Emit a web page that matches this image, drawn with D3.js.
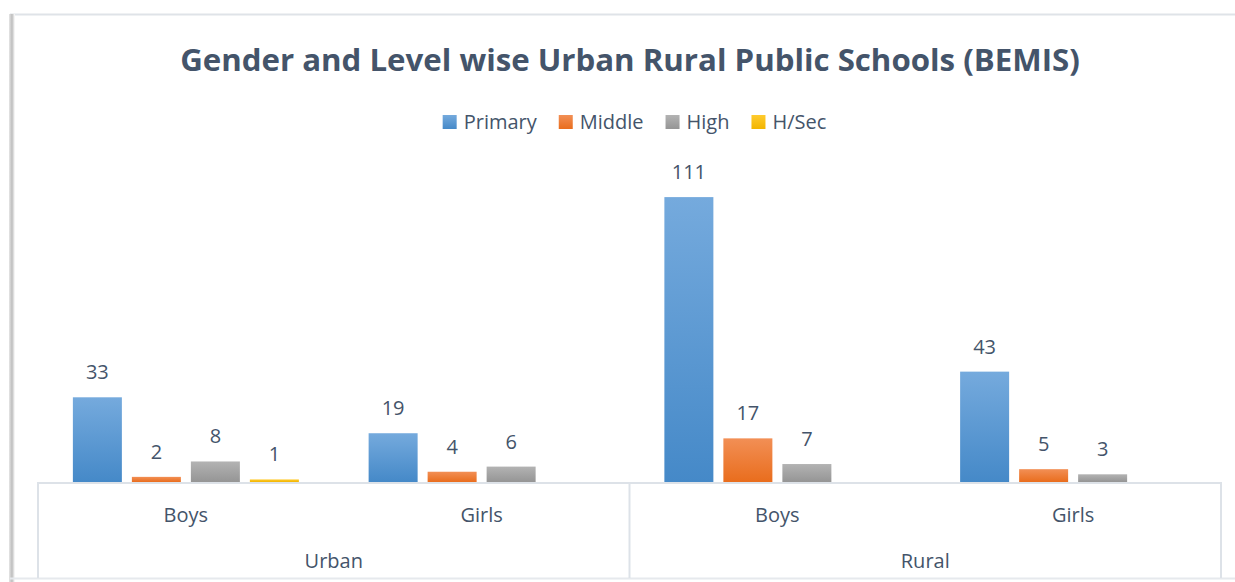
<!DOCTYPE html>
<html>
<head>
<meta charset="utf-8">
<script src="https://cdn.jsdelivr.net/npm/d3@7/dist/d3.min.js"></script>
<style>
  html, body { margin: 0; padding: 0; background: #fff; }
  svg { display: block; }
  text { font-family: "Open Sans", "DejaVu Sans", sans-serif; fill: #44546A; }
</style>
</head>
<body>
<svg id="chart" width="1235" height="582"></svg>
<script>
// Areas and gender sub-categories (two-level category axis)
const areas = ["Urban", "Rural"];
const genders = ["Boys", "Girls"];
const levels = ["Primary", "Middle", "High", "H/Sec"];

// Number of schools per level, ordered Urban Boys, Urban Girls, Rural Boys, Rural Girls
const primary = [33, 19, 111, 43];
const middle = [2, 4, 17, 5];
const high = [8, 6, 7, 3];
const hsec = [1, 0, 0, 0];

const yTicks = [0, 20, 40, 60, 80, 100, 120];

const title = "Gender and Level wise Urban Rural Public Schools (BEMIS)";

const seriesValues = [primary, middle, high, hsec];
const categories = [];
areas.forEach(a => genders.forEach(g => categories.push({ area: a, gender: g, key: a + "|" + g })));

const colors = {
  "Primary": ["#75aadd", "#4589c8"],
  "Middle": ["#f28f55", "#e96d1d"],
  "High": ["#b3b3b3", "#959595"],
  "H/Sec": ["#ffcb2e", "#f2b500"]
};

const W = 1235, H = 582;
const plot = { left: 38, right: 1221, top: 174, bottom: 482 };

const svg = d3.select("#chart");
const defs = svg.append("defs");

// vertical gradients for the bars and legend swatches
levels.forEach((lv, i) => {
  const g = defs.append("linearGradient")
    .attr("id", "grad" + i).attr("x1", 0).attr("y1", 0).attr("x2", 0).attr("y2", 1);
  g.append("stop").attr("offset", "0%").attr("stop-color", colors[lv][0]);
  g.append("stop").attr("offset", "100%").attr("stop-color", colors[lv][1]);
});

// shadow along the left edge of the chart frame
const sh = defs.append("linearGradient").attr("id", "leftShadow")
  .attr("x1", 0).attr("y1", 0).attr("x2", 1).attr("y2", 0);
sh.append("stop").attr("offset", "0%").attr("stop-color", "#e6e6e6");
sh.append("stop").attr("offset", "50%").attr("stop-color", "#bdbdbd");
sh.append("stop").attr("offset", "100%").attr("stop-color", "#ffffff");

// chart frame
svg.append("rect").attr("x", 0).attr("y", 0).attr("width", W).attr("height", H).attr("fill", "#fff");
svg.append("line").attr("x1", 10).attr("x2", W).attr("y1", 14.5).attr("y2", 14.5)
  .attr("stroke", "#dfe3e8").attr("stroke-width", 2);
svg.append("rect").attr("x", 9).attr("y", 14).attr("width", 6).attr("height", H - 14)
  .attr("fill", "url(#leftShadow)");
svg.append("line").attr("x1", 10).attr("x2", W).attr("y1", 578.5).attr("y2", 578.5)
  .attr("stroke", "#e6e9ed").attr("stroke-width", 2);

// scales
const x0 = d3.scaleBand().domain(categories.map(c => c.key)).range([plot.left, plot.right]).padding(0);
const barW = 49, barGap = 10;
const step = barW + barGap;
const pInner = barGap / step;
const pOuter = (x0.bandwidth() / step - (levels.length - pInner)) / 2;
const x1 = d3.scaleBand().domain(levels).range([0, x0.bandwidth()])
  .paddingInner(pInner).paddingOuter(pOuter);
const y = d3.scaleLinear().domain([yTicks[0], yTicks[yTicks.length - 1]]).range([plot.bottom, plot.top]);

// bars and value labels
const rows = [];
categories.forEach((c, ci) => {
  levels.forEach((lv, li) => {
    const v = seriesValues[li][ci];
    if (v > 0) rows.push({ key: c.key, level: lv, li, value: v });
  });
});

const barG = svg.append("g");
barG.selectAll("rect").data(rows).join("rect")
  .attr("x", d => x0(d.key) + x1(d.level))
  .attr("y", d => y(d.value))
  .attr("width", x1.bandwidth())
  .attr("height", d => y(0) - y(d.value))
  .attr("fill", d => "url(#grad" + d.li + ")");

barG.selectAll("text").data(rows).join("text")
  .attr("x", d => x0(d.key) + x1(d.level) + x1.bandwidth() / 2)
  .attr("y", d => y(d.value) - 18)
  .attr("text-anchor", "middle")
  .attr("font-size", 20)
  .text(d => d.value);

// category axis: baseline plus group separators
const axisColor = "#dde2e8";
const axisG = svg.append("g");
axisG.append("line").attr("x1", plot.left).attr("x2", plot.right)
  .attr("y1", plot.bottom + 1).attr("y2", plot.bottom + 1)
  .attr("stroke", axisColor).attr("stroke-width", 2);

const areaBounds = areas.map(a => {
  const keys = categories.filter(c => c.area === a).map(c => c.key);
  return { area: a, x0: x0(keys[0]), x1: x0(keys[keys.length - 1]) + x0.bandwidth() };
});
const seps = [plot.left].concat(areaBounds.map(b => b.x1));
axisG.selectAll("line.sep").data(seps).join("line").attr("class", "sep")
  .attr("x1", d => d).attr("x2", d => d)
  .attr("y1", plot.bottom).attr("y2", 578)
  .attr("stroke", axisColor).attr("stroke-width", 2);

axisG.selectAll("text.gender").data(categories).join("text").attr("class", "gender")
  .attr("x", d => x0(d.key) + x0.bandwidth() / 2)
  .attr("y", 522)
  .attr("text-anchor", "middle").attr("font-size", 20)
  .text(d => d.gender);

axisG.selectAll("text.area").data(areaBounds).join("text").attr("class", "area")
  .attr("x", d => (d.x0 + d.x1) / 2)
  .attr("y", 568)
  .attr("text-anchor", "middle").attr("font-size", 20)
  .text(d => d.area);

// title, sized to span its line
const t = svg.append("text")
  .attr("x", 630).attr("y", 71)
  .attr("text-anchor", "middle")
  .attr("font-weight", 700)
  .attr("font-size", 32)
  .text(title);
const tw = t.node().getComputedTextLength();
t.attr("font-size", 32 * 900 / tw);

// legend
const legend = svg.append("g");
const items = legend.selectAll("g").data(levels).join("g");
items.append("rect").attr("width", 14).attr("height", 14).attr("y", -14)
  .attr("fill", (d, i) => "url(#grad" + i + ")");
items.append("text").attr("x", 21).attr("y", 0).attr("font-size", 20).text(d => d);
let cx = 0;
const offsets = [];
items.each(function () {
  offsets.push(cx);
  const w = d3.select(this).select("text").node().getComputedTextLength();
  cx += 21 + w + 22;
});
const total = cx - 22;
items.attr("transform", (d, i) => `translate(${offsets[i]},0)`);
legend.attr("transform", `translate(${634.5 - total / 2},129)`);
</script>
</body>
</html>
